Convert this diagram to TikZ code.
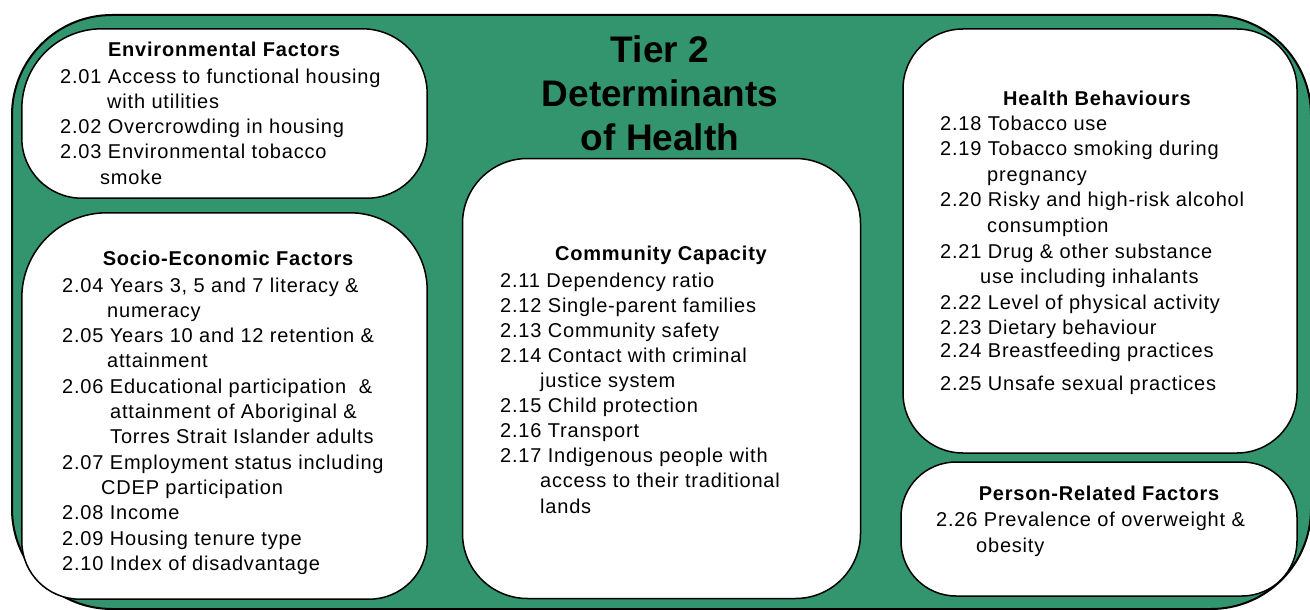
\documentclass[tikz,border=0pt]{standalone}
\usepackage{fontspec}
\usetikzlibrary{calc}
\setmainfont{Liberation Sans}
\newfontfamily\spacedfont{Liberation Sans}[LetterSpace=4.0]
\definecolor{tiergreen}{RGB}{51,149,110}
\begin{document}
\begin{tikzpicture}[x=1pt,y=-1pt,
  frame/.style={draw=black, line width=2pt, fill=tiergreen, rounded corners=100pt, inner sep=0pt},
  panel/.style={draw=black, line width=1.5pt, fill=white, rounded corners=#1, inner sep=0pt},
  panel/.default=60pt,
  slot/.style={inner sep=0pt},
  panelline/.style={draw=black, line width=1.5pt, fill=white},
  bodytext/.style={anchor=base west, inner sep=0pt, align=left, font=\spacedfont\fontsize{20}{25.3}\selectfont},
  headtext/.style={anchor=base, inner sep=0pt, font=\spacedfont\bfseries\fontsize{20}{25.3}\selectfont},
  bigtitle/.style={anchor=base, inner sep=0pt, align=center, font=\bfseries\fontsize{37}{44}\selectfont}]
\useasboundingbox (0,0) rectangle (1310,610);
\begin{scope}
\clip (0,0) rectangle (1310,610);
\node[frame, minimum width=1299pt, minimum height=594pt] (outer) at (661.5,312) {};
\end{scope}
% panels of the left column (larger upper corners)
\node[slot, minimum width=405pt, minimum height=169pt] (env) at (224.5,113.5) {};
\path[panelline] ($(env.north west)+(80,0)$) -- ($(env.north east)+(-65,0)$)
  .. controls +(35.9,0) and +(0,-35.9) .. ($(env.north east)+(0,65)$)
  -- ($(env.south east)+(0,-60)$)
  .. controls +(0,33.1) and +(33.1,0) .. ($(env.south east)+(-60,0)$)
  -- ($(env.south west)+(60,0)$)
  .. controls +(-33.1,0) and +(0,33.1) .. ($(env.south west)+(0,-60)$)
  -- ($(env.north west)+(0,80)$)
  .. controls +(0,-44.2) and +(-44.2,0) .. ($(env.north west)+(80,0)$) -- cycle;
\node[slot, minimum width=405pt, minimum height=386pt] (socio) at (224.5,406) {};
\path[panelline] ($(socio.north west)+(85,0)$) -- ($(socio.north east)+(-77,0)$)
  .. controls +(42.5,0) and +(0,-42.5) .. ($(socio.north east)+(0,77)$)
  -- ($(socio.south east)+(0,-58)$)
  .. controls +(0,32) and +(32,0) .. ($(socio.south east)+(-58,0)$)
  -- ($(socio.south west)+(58,0)$)
  .. controls +(-32,0) and +(0,32) .. ($(socio.south west)+(0,-58)$)
  -- ($(socio.north west)+(0,85)$)
  .. controls +(0,-46.9) and +(-46.9,0) .. ($(socio.north west)+(85,0)$) -- cycle;
% other panels
\node[panel=65pt, minimum width=398pt, minimum height=440pt] (comm) at (661.5,378.5) {};
\node[panel, minimum width=394pt, minimum height=424pt] (health) at (1100,241) {};
\node[panel=55pt, minimum width=396pt, minimum height=134pt] (person) at (1099,529) {};
% main title (anchored at the baseline of its last line)
\node[bigtitle] (title) at (660,150) {Tier 2\\Determinants\\of Health};
% environmental
\node[headtext] (envhead) at (224,57) {Environmental Factors};
\node[bodytext] (envbody) at (60,184.2) {2.01 Access to functional housing\\
\hspace*{47pt}with utilities\\
2.02 Overcrowding in housing\\
2.03 Environmental tobacco\\
\hspace*{40pt}smoke};
% socio-economic
\node[headtext] (sociohead) at (228,265) {Socio-Economic Factors};
\node[bodytext] (sociobody) at (62,570.3) {2.04 Years 3, 5 and 7 literacy \&\\
\hspace*{45pt}numeracy\\
2.05 Years 10 and 12 retention \&\\
\hspace*{45pt}attainment\\
2.06 Educational participation \ \&\\
\hspace*{48pt}attainment of Aboriginal \&\\
\hspace*{48pt}Torres Strait Islander adults\\
2.07 Employment status including\\
\hspace*{39pt}CDEP participation\\
2.08 Income\\
2.09 Housing tenure type\\
2.10 Index of disadvantage};
% community
\node[headtext] (commhead) at (661,260) {Community Capacity};
\node[bodytext, font=\spacedfont\fontsize{20}{25.1}\selectfont] (commbody) at (500,513) {2.11 Dependency ratio\\
2.12 Single-parent families\\
2.13 Community safety\\
2.14 Contact with criminal\\
\hspace*{40pt}justice system\\
2.15 Child protection\\
2.16 Transport\\
2.17 Indigenous people with\\
\hspace*{40pt}access to their traditional\\
\hspace*{40pt}lands};
% health behaviours
\node[headtext] (healthhead) at (1097,106) {Health Behaviours};
\node[bodytext, font=\spacedfont\fontsize{20}{25.6}\selectfont] (healthbody) at (940,390) {2.18 Tobacco use\\
2.19 Tobacco smoking during\\
\hspace*{47pt}pregnancy\\
2.20 Risky and high-risk alcohol\\
\hspace*{47pt}consumption\\
2.21 Drug \& other substance\\
\hspace*{40pt}use including inhalants\\
2.22 Level of physical activity\\
2.23 Dietary behaviour\\[-3.4pt]
2.24 Breastfeeding practices\\[7.4pt]
2.25 Unsafe sexual practices};
% person-related
\node[headtext] (personhead) at (1099,500) {Person-Related Factors};
\node[bodytext, font=\spacedfont\fontsize{20}{26}\selectfont] (personbody) at (936,552) {2.26 Prevalence of overweight \&\\
\hspace*{40pt}obesity};
\end{tikzpicture}
\end{document}
